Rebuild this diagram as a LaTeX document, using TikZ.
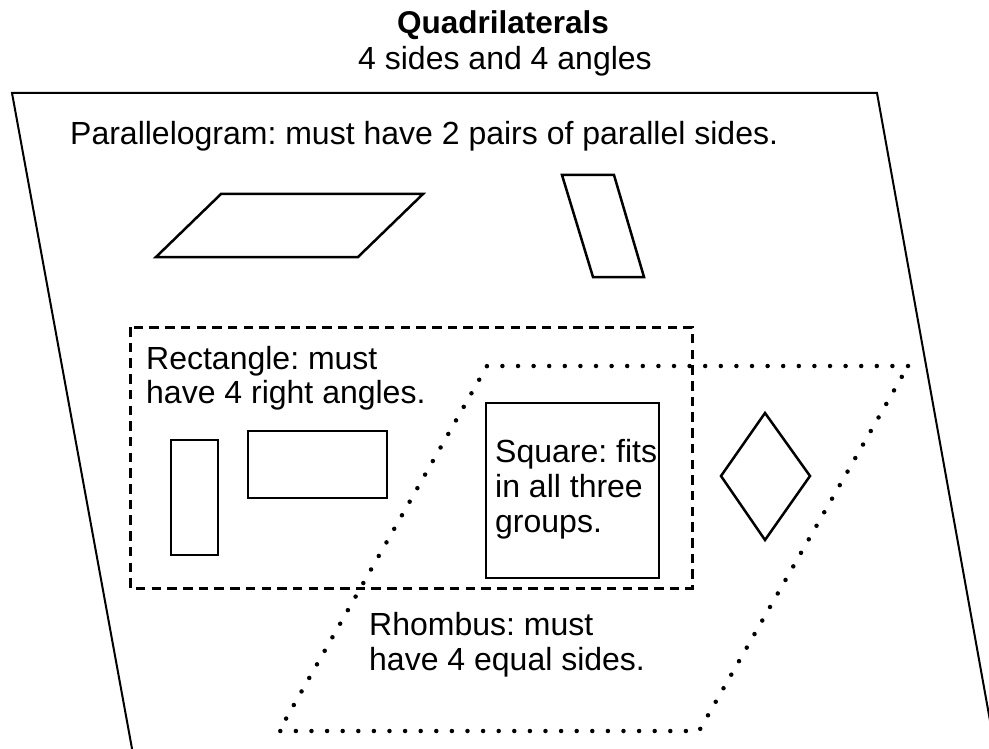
\documentclass[tikz,border=0pt]{standalone}
\usepackage{fontspec}
\setmainfont{Liberation Sans}
\frenchspacing
\begin{document}
\begin{tikzpicture}[x=1pt,y=-1pt,
  txt/.style={inner sep=0pt,anchor=base west,font=\fontsize{32}{35}\selectfont},
  ttl/.style={inner sep=0pt,anchor=base,font=\fontsize{32}{35}\selectfont},
  outerline/.style={draw=black,line width=2pt,line join=miter},
  figline/.style={draw=black,line width=2.5pt,line join=miter},
  dashbox/.style={draw=black,line width=3pt,dash pattern=on 9.5pt off 6.2pt},
  dotbox/.style={draw=black,line width=4.5pt,line cap=round,dash pattern=on 0pt off 15.6pt}]
\useasboundingbox (0,0) rectangle (989,749);
\clip (0,0) rectangle (989,749);
% title
\node[ttl,font=\fontsize{31.5}{35}\selectfont\bfseries] (title) at (503,34) {Quadrilaterals};
\node[ttl] (subtitle) at (505,70) {4 sides and 4 angles};
% outer parallelogram
\coordinate (o1) at (12,93);
\coordinate (o2) at (877,93);
\coordinate (o3) at (998,765);
\coordinate (o4) at (135,765);
\draw[outerline] (o4) -- (o1) -- (o2) -- (o3);
\node[txt] (ptext) at (70,145) {Parallelogram: must have 2 pairs of parallel sides.};
% parallelograms
\draw[figline] (156,257) -- (221,194) -- (423,194) -- (358,257) -- cycle;
\draw[figline] (562,175) -- (614,175) -- (644,277) -- (593,277) -- cycle;
% rectangle group
\draw[dashbox] (130,327) rectangle (692,588);
\node[txt] (r1) at (146,369) {Rectangle: must};
\node[txt] (r2) at (146,403) {have 4 right angles.};
\draw[figline] (171,440) rectangle (218,555);
\draw[figline] (248,431) rectangle (387,498);
% rhombus group
\draw[dotbox] (908,366) -- (487,366) -- (279,731) -- (699,731) -- cycle;
\node[txt] (h1) at (369,635) {Rhombus: must};
\node[txt] (h2) at (369,670) {have 4 equal sides.};
\draw[figline] (765,413) -- (810,476) -- (765,540) -- (721,476) -- cycle;
% square
\draw[figline] (486,403) rectangle (659,578);
\node[txt] (s1) at (495,462) {Square: fits};
\node[txt] (s2) at (495,497) {in all three};
\node[txt] (s3) at (495,532) {groups.};
\end{tikzpicture}
\end{document}
